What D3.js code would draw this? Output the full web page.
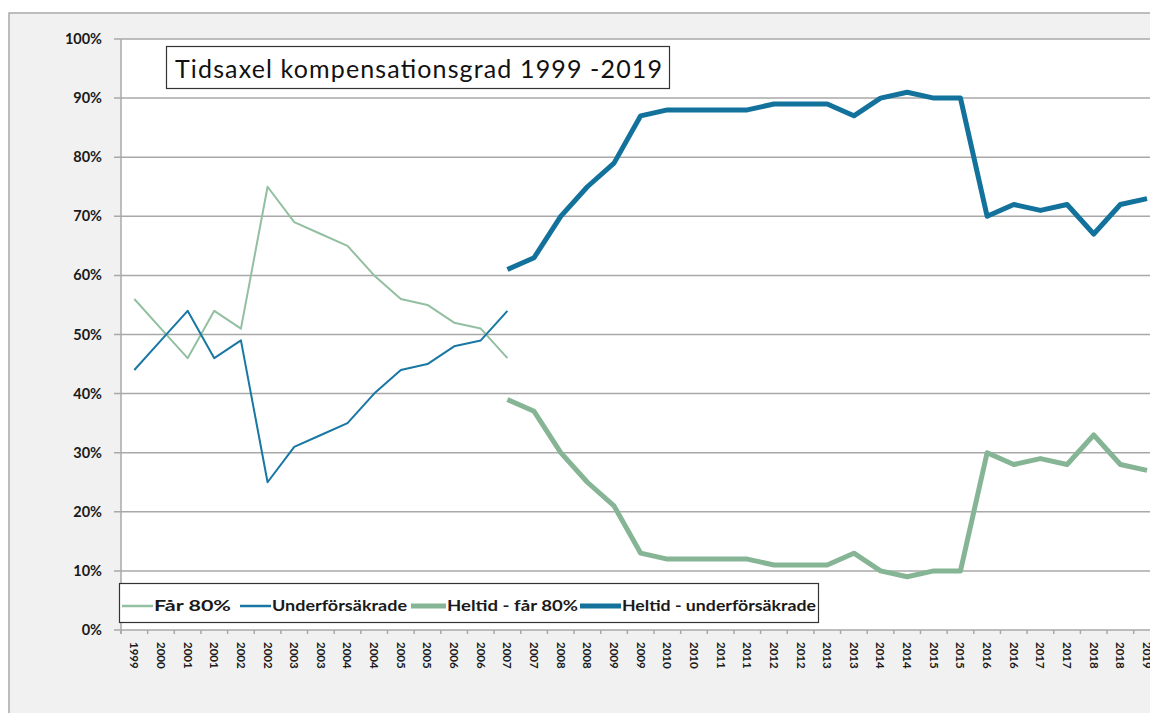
<!DOCTYPE html>
<html>
<head>
<meta charset="utf-8">
<script src="https://cdn.jsdelivr.net/npm/d3@7"></script>
<style>
  body { margin: 0; background: #fff; }
  svg text { font-family: Lato, "Open Sans", sans-serif; }
</style>
</head>
<body>
<div id="chart"></div>
<script>
'use strict'

// x categories (each year appears twice after 1999/2000, as in the source sheet)
const years = ["1999","2000","2001","2001","2002","2002","2003","2003","2004","2004",
  "2005","2005","2006","2006","2007","2007","2008","2008","2009","2009",
  "2010","2010","2011","2011","2012","2012","2013","2013","2014","2014",
  "2015","2015","2016","2016","2017","2017","2018","2018","2019","2019"]

const yTicks = [0, 10, 20, 30, 40, 50, 60, 70, 80, 90, 100]

// thin series, index 0..14
const far80 = [56, 51, 46, 54, 51, 75, 69, 67, 65, 60, 56, 55, 52, 51, 46]
const underforsakrade = [44, 49, 54, 46, 49, 25, 31, 33, 35, 40, 44, 45, 48, 49, 54]

// thick series, start at index 14
const heltidFar80 = [39, 37, 30, 25, 21, 13, 12, 12, 12, 12, 11, 11, 11, 13, 10, 9, 10, 10,
  30, 28, 29, 28, 33, 28, 27]
const heltidUnder = [61, 63, 70, 75, 79, 87, 88, 88, 88, 88, 89, 89, 89, 87, 90, 91, 90, 90,
  70, 72, 71, 72, 67, 72, 73]
const heltidStart = 14

const series = [
  {name: "Får 80%", values: far80, start: 0, color: "#93bfa1", width: 2},
  {name: "Underförsäkrade", values: underforsakrade, start: 0, color: "#1877a3", width: 2},
  {name: "Heltid - får 80%", values: heltidFar80, start: heltidStart, color: "#86b595", width: 5},
  {name: "Heltid - underförsäkrade", values: heltidUnder, start: heltidStart, color: "#13729b", width: 5}
]

const width = 1150, height = 713
const plot = {left: 121, top: 39, bottom: 630, right: 1187}

const svg = d3.select("#chart").append("svg")
  .attr("width", width).attr("height", height)

// outer chart frame
svg.append("rect").attr("x", 9).attr("y", 13).attr("width", width).attr("height", height)
  .attr("fill", "#f1f1f1").attr("stroke", "#a9a9a9").attr("stroke-width", 1.5)

svg.append("rect").attr("x", plot.left).attr("y", plot.top)
  .attr("width", plot.right - plot.left).attr("height", plot.bottom - plot.top)
  .attr("fill", "#fff")

const x = d3.scaleBand().domain(d3.range(years.length)).range([plot.left, plot.right])
const y = d3.scaleLinear().domain([0, 100]).range([plot.bottom, plot.top])

// gridlines
svg.append("g").selectAll("line").data(yTicks).join("line")
  .attr("x1", plot.left - 7).attr("x2", width)
  .attr("y1", d => y(d)).attr("y2", d => y(d))
  .attr("stroke", "#a8a8a8").attr("stroke-width", 1.5)

// y axis line
svg.append("line").attr("x1", plot.left).attr("x2", plot.left)
  .attr("y1", plot.top).attr("y2", plot.bottom + 4)
  .attr("stroke", "#a8a8a8").attr("stroke-width", 1.5)

// y labels
svg.append("g").selectAll("text").data(yTicks).join("text")
  .attr("x", 102).attr("y", d => y(d)).attr("dy", "0.35em")
  .attr("text-anchor", "end").attr("font-size", 14.5).attr("font-weight", "bold")
  .attr("fill", "#1a1a1a")
  .text(d => d + "%")

// x ticks at band edges
svg.append("g").selectAll("line").data(d3.range(years.length + 1)).join("line")
  .attr("x1", i => plot.left + i * x.step()).attr("x2", i => plot.left + i * x.step())
  .attr("y1", plot.bottom).attr("y2", plot.bottom + 4)
  .attr("stroke", "#a8a8a8").attr("stroke-width", 1.5)

// x labels, rotated (only the ones that fall inside the picture)
const xLabels = years.map((d, i) => ({d: d, i: i}))
  .filter(o => x(o.i) + x.bandwidth() / 2 < width)
svg.append("g").selectAll("text").data(xLabels).join("text")
  .attr("transform", o => "translate(" + (x(o.i) + x.bandwidth() / 2) + "," + 642 + ") rotate(90)")
  .attr("dy", "0.35em")
  .attr("font-size", 11.5).attr("font-weight", "bold").attr("fill", "#1a1a1a")
  .text(o => o.d)

// lines
const line = d3.line()
  .x(d => x(d.i) + x.bandwidth() / 2)
  .y(d => y(d.v))

svg.append("g").selectAll("path").data(series).join("path")
  .attr("d", s => line(s.values.map((v, k) => ({i: s.start + k, v: v}))))
  .attr("fill", "none")
  .attr("stroke", s => s.color)
  .attr("stroke-width", s => s.width)
  .attr("stroke-linejoin", "round")

// title box
const titleG = svg.append("g")
titleG.append("rect").attr("x", 166.5).attr("y", 46.5).attr("width", 503).attr("height", 42)
  .attr("fill", "#fff").attr("stroke", "#333").attr("stroke-width", 1.2)
titleG.append("text").attr("x", 175).attr("y", 78)
  .attr("font-size", 25).attr("fill", "#111")
  .attr("textLength", 487).attr("lengthAdjust", "spacing")
  .text("Tidsaxel kompensationsgrad 1999 -2019")

// legend box
const legend = svg.append("g")
legend.append("rect").attr("x", 119.5).attr("y", 583.5).attr("width", 699).attr("height", 39)
  .attr("fill", "#fff").attr("stroke", "#333").attr("stroke-width", 1.2)

const legendX = [122, 240, 411, 580]
const legendLen = [31, 31, 35, 41]
const legendTextW = [77, 135, 131, 194]
const item = legend.selectAll("g").data(series).join("g")
  .attr("transform", (s, i) => "translate(" + legendX[i] + ",606)")
item.append("line").attr("x1", 0).attr("x2", (s, i) => legendLen[i]).attr("y1", 0).attr("y2", 0)
  .attr("stroke", s => s.color).attr("stroke-width", s => s.width === 2 ? 2.5 : 5)
item.append("text").attr("x", (s, i) => legendLen[i] + 1).attr("dy", "0.35em")
  .attr("font-size", 15.5).attr("font-weight", "bold").attr("fill", "#1a1a1a")
  .attr("textLength", (s, i) => legendTextW[i]).attr("lengthAdjust", "spacingAndGlyphs")
  .text(s => s.name)
</script>
</body>
</html>
